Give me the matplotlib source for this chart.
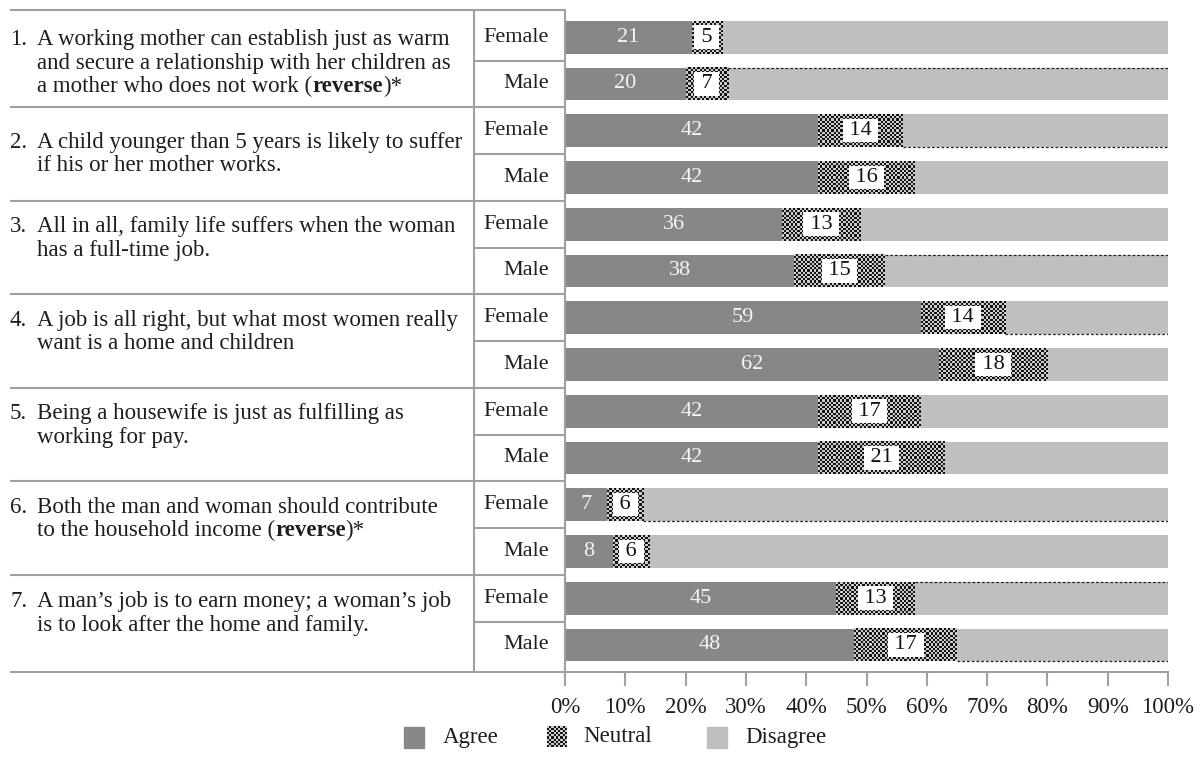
import numpy as np
import matplotlib
matplotlib.use("Agg")
import matplotlib.pyplot as plt
from matplotlib.colors import ListedColormap
from matplotlib.patches import Rectangle
from matplotlib.transforms import offset_copy

# ---------------- data ----------------
items = [
    ["A working mother can establish just as warm",
     "and secure a relationship with her children as",
     "a mother who does not work (**reverse**)*"],
    ["A child younger than 5 years is likely to suffer",
     "if his or her mother works."],
    ["All in all, family life suffers when the woman",
     "has a full-time job."],
    ["A job is all right, but what most women really",
     "want is a home and children"],
    ["Being a housewife is just as fulfilling as",
     "working for pay."],
    ["Both the man and woman should contribute",
     "to the household income (**reverse**)*"],
    ["A man\u2019s job is to earn money; a woman\u2019s job",
     "is to look after the home and family."],
]
groups = ["Female", "Male"]
agree_female = [21, 42, 36, 59, 42, 7, 45]
agree_male = [20, 42, 38, 62, 42, 8, 48]
neutral_female = [5, 14, 13, 14, 17, 6, 13]
neutral_male = [7, 16, 15, 18, 21, 6, 17]
disagree_female = [74, 44, 51, 27, 41, 87, 42]
disagree_male = [73, 42, 47, 20, 37, 86, 35]
xtick_values = [0, 10, 20, 30, 40, 50, 60, 70, 80, 90, 100]
xtick_labels = [f"{v}%" for v in xtick_values]
legend_labels = ["Agree", "Neutral", "Disagree"]

# rendering artefacts of the original: dotted edges on some bars
dotted_edges = [(1, "top"), (2, "bottom"), (5, "top"), (6, "bottom"),
                (10, "bottom"), (12, "top"), (13, "bottom")]
# per-item vertical shift of the first text line (pixels)
first_line_shift = [0, 9, 0, 0, 0, 0, 1]

# ---------------- style ----------------
plt.rcParams["font.family"] = ["Liberation Serif", "DejaVu Serif"]
FS_ITEM = 16.5
FS_LAB = 16
FS_NUM = 16
FS_TICK = 16.5
FS_LEG = 16.5
text_color = "#1e1e1e"
agree_color = "#878787"
disagree_color = "#bfbfbf"
line_color = "#a0a0a0"
checker_cmap = ListedColormap(["#cccccc", "#141414"])

W, H = 1202, 778
fig = plt.figure(figsize=(W / 100, H / 100), dpi=100)
ax_left_px, ax_right_px, ax_top_px, ax_bot_px = 565, 1168, 10, 672
ax = fig.add_axes([ax_left_px / W, 1 - ax_bot_px / H,
                   (ax_right_px - ax_left_px) / W, (ax_bot_px - ax_top_px) / H])

agree = [v for pair in zip(agree_female, agree_male) for v in pair]
neutral = [v for pair in zip(neutral_female, neutral_male) for v in pair]
disagree = [v for pair in zip(disagree_female, disagree_male) for v in pair]
labels = [g for _ in items for g in groups]
ypos = np.arange(len(agree))
bh = 0.70

y_top, y_bot = -0.582, 13.579
px_per_x = (ax_right_px - ax_left_px) / 100.0
px_per_y = (ax_bot_px - ax_top_px) / (y_bot - y_top)


def draw_checker(a, x0, x1, y0, y1, pw, ph, cell=2.2, z=2):
    nx = max(2, int(round(pw / cell)))
    ny = max(2, int(round(ph / cell)))
    arr = np.add.outer(np.arange(ny), np.arange(nx)) % 2
    a.imshow(arr, cmap=checker_cmap, vmin=0, vmax=1, extent=(x0, x1, y1, y0),
             aspect="auto", interpolation="nearest", zorder=z)


ax.barh(ypos, agree, height=bh, color=agree_color, zorder=2)
left_d = [a + n for a, n in zip(agree, neutral)]
ax.barh(ypos, disagree, left=left_d, height=bh, color=disagree_color, zorder=2)
for y, a, n in zip(ypos, agree, neutral):
    draw_checker(ax, a, a + n, y - bh / 2, y + bh / 2, n * px_per_x, bh * px_per_y)

for idx, side in dotted_edges:
    yy = ypos[idx] - bh / 2 if side == "top" else ypos[idx] + bh / 2
    ax.hlines(yy, left_d[idx], 100, colors="#222222", linestyles=(0, (2.2, 1.6)),
              linewidth=0.9, zorder=3)

for y, a, n in zip(ypos, agree, neutral):
    ax.text(a / 2, y, str(a), ha="center", va="center", color="#f4f4f4",
            fontsize=FS_NUM, zorder=4)
    ax.text(a + n / 2, y, f"\u2009{n}\u2009", ha="center", va="center",
            color="#111111", fontsize=FS_NUM, zorder=4,
            bbox=dict(boxstyle="square,pad=0.1", fc="white", ec="none"))

ax.set_xlim(0, 100)
ax.set_ylim(y_bot, y_top)
ax.set_xticks(xtick_values)
ax.set_xticklabels(xtick_labels, fontsize=FS_TICK, color=text_color)
ax.tick_params(axis="x", direction="out", length=10, width=1.5, color=line_color,
               pad=8)
ax.tick_params(axis="y", left=False, labelleft=False)
for s in ["top", "right"]:
    ax.spines[s].set_visible(False)
for s in ["left", "bottom"]:
    ax.spines[s].set_color(line_color)
    ax.spines[s].set_linewidth(1.5)

# ---------------- table on the left ----------------
tr = ax.get_yaxis_transform()
x_left = (10 - ax_left_px) / (ax_right_px - ax_left_px)
x_mid = (473.7 - ax_left_px) / (ax_right_px - ax_left_px)
x_text = (37 - ax_left_px) / (ax_right_px - ax_left_px)
x_grp = (549 - ax_left_px) / (ax_right_px - ax_left_px)

lk = dict(color=line_color, linewidth=1.5, transform=tr, clip_on=False,
          solid_capstyle="butt")
ax.plot([x_left, 0], [y_top, y_top], **lk)
ax.plot([x_left, 0], [y_bot, y_bot], **lk)
ax.plot([x_mid, x_mid], [y_top, y_bot], **lk)
for k in range(1, len(items)):
    ax.plot([x_left, 0], [2 * k - 0.5, 2 * k - 0.5], **lk)
for k in range(len(items)):
    ax.plot([x_mid, 0], [2 * k + 0.5, 2 * k + 0.5], **lk)

renderer = fig.canvas.get_renderer()
line_sp = 23.5 / px_per_y
base_off = 8.0 / px_per_y
for k, lines in enumerate(items):
    y0 = 2 * k + first_line_shift[k] / px_per_y + base_off
    ax.text(x_left, y0, f"{k + 1}.", transform=tr, ha="left", va="baseline",
            fontsize=FS_ITEM, color=text_color)
    for i, line in enumerate(lines):
        yl = y0 + i * line_sp
        xoff = 0.0
        for j, seg in enumerate(line.split("**")):
            if not seg:
                continue
            t = ax.text(x_text, yl, seg,
                        transform=offset_copy(tr, fig=fig, x=xoff, units="dots"),
                        ha="left", va="baseline", fontsize=FS_ITEM,
                        fontweight="bold" if j % 2 else "normal",
                        color=text_color)
            xoff += t.get_window_extent(renderer=renderer).width

for y, g in zip(ypos, labels):
    ax.text(x_grp, y, g, transform=tr, ha="right", va="center", fontsize=FS_LAB,
            color=text_color)

# ---------------- legend ----------------
lax = fig.add_axes([0, 0, 1, 1], zorder=-1)
lax.axis("off")
leg_y = 737
patch_x = [404, 547, 707]
text_x = [443, 583, 745]
pw, ph = 20, 21
lax.add_patch(Rectangle((patch_x[0], leg_y - ph / 2), pw, ph, color=agree_color))
draw_checker(lax, patch_x[1], patch_x[1] + pw, leg_y - ph / 2, leg_y + ph / 2, pw, ph)
lax.add_patch(Rectangle((patch_x[2], leg_y - ph / 2), pw, ph, color=disagree_color))
for tx, lab in zip(text_x, legend_labels):
    lax.text(tx, leg_y, lab, ha="left", va="center", fontsize=FS_LEG, color=text_color)
lax.set_xlim(0, W)
lax.set_ylim(H, 0)

fig.savefig("out.png", dpi=100)
